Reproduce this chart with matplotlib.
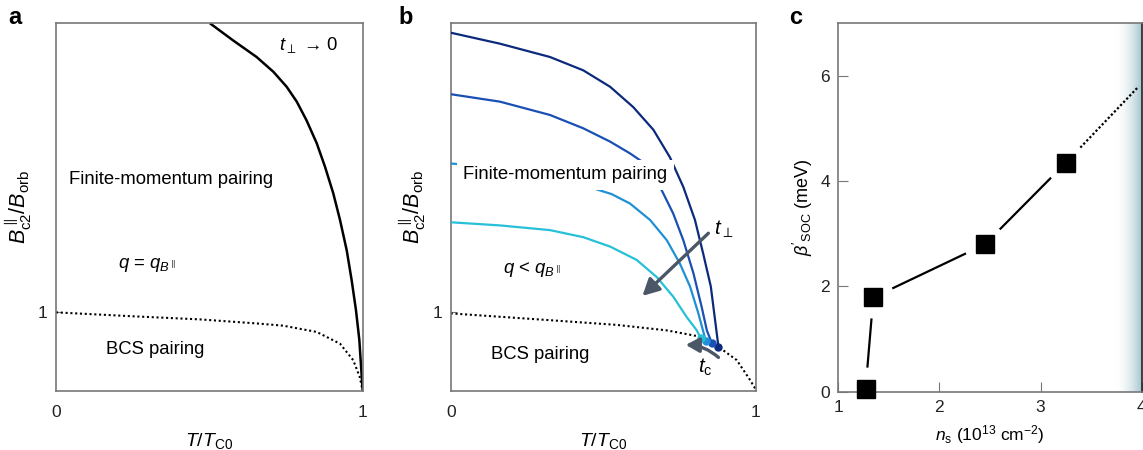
import numpy as np
import matplotlib
matplotlib.use("Agg")
import matplotlib.pyplot as plt
from matplotlib.patches import FancyArrowPatch
from matplotlib.colors import LinearSegmentedColormap

plt.rcParams['font.family'] = ['Liberation Sans', 'DejaVu Sans']
plt.rcParams['mathtext.fontset'] = 'custom'
plt.rcParams['mathtext.rm'] = 'Liberation Sans'
plt.rcParams['mathtext.it'] = 'Liberation Sans:italic'
plt.rcParams['mathtext.bf'] = 'Liberation Sans:bold'

# ---------------- data ----------------
# panel a
a_fm_x = [0.502, 0.578, 0.654, 0.709, 0.752, 0.785, 0.817, 0.850, 0.877, 0.904, 0.926,
          0.948, 0.964, 0.978, 0.989, 0.999, 1.0]
a_fm_y = [4.69, 4.47, 4.26, 4.07, 3.88, 3.69, 3.45, 3.16, 2.86, 2.52, 2.18,
          1.79, 1.41, 1.03, 0.65, 0.05, 0.0]
a_bcs_x = [0.0, 0.25, 0.47, 0.65, 0.741, 0.85, 0.926, 0.969, 0.99, 1.0]
a_bcs_y = [1.0, 0.95, 0.91, 0.86, 0.83, 0.75, 0.60, 0.39, 0.18, 0.0]

# panel b
b_bcs_x = [0.0, 0.325, 0.544, 0.708, 0.817, 0.877, 0.937, 0.98, 0.997]
b_bcs_y = [0.987, 0.90, 0.84, 0.77, 0.69, 0.56, 0.39, 0.14, 0.03]
b_c1_x = [0.0, 0.161, 0.325, 0.434, 0.522, 0.598, 0.664, 0.718, 0.762, 0.80, 0.827, 0.852, 0.866, 0.877]
b_c1_y = [4.57, 4.43, 4.26, 4.09, 3.88, 3.62, 3.33, 2.98, 2.60, 2.18, 1.75, 1.33, 0.90, 0.56]
b_c2_x = [0.0, 0.161, 0.325, 0.434, 0.522, 0.587, 0.636, 0.664, 0.691, 0.729, 0.762, 0.795, 0.822, 0.839, 0.855]
b_c2_y = [3.785, 3.69, 3.52, 3.35, 3.18, 3.03, 2.90, 2.73, 2.56, 2.26, 1.92, 1.50, 1.07, 0.77, 0.61]
b_c3_x = [0.0, 0.069, 0.218, 0.38, 0.527, 0.587, 0.653, 0.708, 0.751, 0.784, 0.811, 0.836]
b_c3_y = [2.90, 2.88, 2.83, 2.69, 2.51, 2.39, 2.18, 1.92, 1.62, 1.33, 0.99, 0.63]
b_c4_x = [0.0, 0.161, 0.325, 0.434, 0.522, 0.609, 0.675, 0.729, 0.773, 0.806, 0.819]
b_c4_y = [2.15, 2.11, 2.05, 1.96, 1.84, 1.67, 1.45, 1.20, 0.94, 0.77, 0.67]
b_colors = ['#0c2a7c', '#1a4fb3', '#1f90d6', '#26c0d8']

# panel c
c_ns = [1.27, 1.346, 2.45, 3.25]
c_beta = [0.06, 1.79, 2.80, 4.35]
c_ext_ns = 3.97
c_ext_beta = 5.80

W, H = 1143, 450
fig = plt.figure(figsize=(W / 100, H / 100), dpi=100)

FS = 13.3
TFS = 12.5
LFS = 15.5
frame_col = '#777777'


def style_frame(ax):
    for s in ax.spines.values():
        s.set_color(frame_col)
        s.set_linewidth(1.2)


# ---------------- panel a ----------------
axa = fig.add_axes([56 / W, 1 - 390.7 / H, (362.7 - 56) / W, (390.7 - 23.3) / H])
style_frame(axa)
axa.plot(a_fm_x, a_fm_y, color='black', lw=1.8, solid_capstyle='butt')
axa.plot(a_bcs_x, a_bcs_y, color='black', lw=1.5, ls=(0, (1, 1.3)))
axa.set_xlim(0, 1)
axa.set_ylim(0, 4.69)
axa.set_xticks([0, 1])
axa.set_yticks([1])
axa.tick_params(axis='x', length=0, pad=10, labelsize=TFS, colors='#222222')
axa.tick_params(axis='y', direction='in', length=4, pad=6, labelsize=TFS, colors='#222222', color=frame_col)
axa.set_xlabel(r'$T/T_{\rm C0}$', fontsize=14, labelpad=8)
axa.set_ylabel(r'$B^{\parallel}_{\rm c2}/B_{\rm orb}$', fontsize=LFS, labelpad=3)
axa.text(0.823, 4.41, r'$t_{\perp}$ → 0', fontsize=FS, ha='center', va='center')
axa.text(0.374, 2.69, 'Finite-momentum pairing', fontsize=FS, ha='center', va='center')
axa.text(0.296, 1.60, r'$q$ = $q_{B^{\parallel}}$', fontsize=FS, ha='center', va='center')
axa.text(0.325, 0.52, 'BCS pairing', fontsize=FS, ha='center', va='center')

# ---------------- panel b ----------------
axb = fig.add_axes([450.7 / W, 1 - 390.7 / H, (756 - 450.7) / W, (390.7 - 23.3) / H])
style_frame(axb)
axb.plot(b_bcs_x, b_bcs_y, color='black', lw=1.5, ls=(0, (1, 1.3)), zorder=2)
curves = [(b_c1_x, b_c1_y), (b_c2_x, b_c2_y), (b_c3_x, b_c3_y), (b_c4_x, b_c4_y)]
for (cx, cy), col in zip(curves, b_colors):
    axb.plot(cx, cy, color=col, lw=1.6, zorder=3)
    axb.plot(cx[-1], cy[-1], 'o', color=col, ms=5, zorder=4)
axb.set_xlim(0, 1)
axb.set_ylim(0, 4.69)
axb.set_xticks([0, 1])
axb.set_yticks([1])
axb.tick_params(axis='x', length=0, pad=10, labelsize=TFS, colors='#222222')
axb.tick_params(axis='y', direction='in', length=4, pad=6, labelsize=TFS, colors='#222222', color=frame_col)
axb.set_xlabel(r'$T/T_{\rm C0}$', fontsize=14, labelpad=8)
axb.set_ylabel(r'$B^{\parallel}_{\rm c2}/B_{\rm orb}$', fontsize=LFS, labelpad=3)
axb.text(0.376, 2.755, 'Finite-momentum pairing', fontsize=FS, ha='center', va='center', zorder=5,
         bbox=dict(boxstyle='square,pad=0.35', fc='white', ec='none'))
axb.text(0.265, 1.545, r'$q$ < $q_{B^{\parallel}}$', fontsize=FS, ha='center', va='center')
axb.text(0.293, 0.463, 'BCS pairing', fontsize=FS, ha='center', va='center')
axb.text(0.893, 2.06, r'$t_{\perp}$', fontsize=FS + 1.5, ha='center', va='center')
axb.text(0.833, 0.30, r'$t_{\rm c}$', fontsize=FS + 1.5, ha='center', va='center')
arr_col = '#4b5666'
axb.add_patch(FancyArrowPatch((0.844, 2.01), (0.628, 1.21), arrowstyle='-|>,head_length=5,head_width=2.6',
                              color=arr_col, lw=2.4, mutation_scale=2, zorder=6, shrinkA=0, shrinkB=0))
axb.add_patch(FancyArrowPatch((0.877, 0.425), (0.770, 0.585), arrowstyle='-|>,head_length=4,head_width=2.2',
                              connectionstyle='arc3,rad=0.18', color=arr_col, lw=2.4, mutation_scale=2,
                              zorder=6, shrinkA=0, shrinkB=0))

# ---------------- panel c ----------------
axc = fig.add_axes([838.3 / W, 1 - 391.7 / H, (1141.7 - 838.3) / W, (391.7 - 23.3) / H])
style_frame(axc)
axc.set_xlim(1, 4)
axc.set_ylim(0, 7)
cmap = LinearSegmentedColormap.from_list('shade', [(1, 1, 1, 0), (0.64, 0.77, 0.81, 1.0)])
grad = np.linspace(0, 1, 256).reshape(1, -1)
axc.imshow(grad, extent=[3.73, 4.0, 0, 7], aspect='auto', cmap=cmap, zorder=0)

# line segments with gaps around squares (gap in pixels)
fig.canvas.draw()
trans = axc.transData
inv = trans.inverted()
gap = 21.0
pts = np.column_stack([c_ns, c_beta])
for i in range(len(pts) - 1):
    p0 = trans.transform(pts[i])
    p1 = trans.transform(pts[i + 1])
    d = p1 - p0
    L = np.hypot(*d)
    u = d / L
    q0 = inv.transform(p0 + u * gap)
    q1 = inv.transform(p1 - u * gap)
    axc.plot([q0[0], q1[0]], [q0[1], q1[1]], color='black', lw=1.6, solid_capstyle='butt')
p0 = trans.transform(pts[-1])
p1 = trans.transform((c_ext_ns, c_ext_beta))
u = (p1 - p0) / np.hypot(*(p1 - p0))
q0 = inv.transform(p0 + u * gap)
axc.plot([q0[0], c_ext_ns], [q0[1], c_ext_beta], color='black', lw=1.6, ls=(0, (1, 1)))
axc.plot(c_ns, c_beta, 's', color='black', ms=13.5, clip_on=False, zorder=5)

axc.set_xticks([1, 2, 3, 4])
axc.set_yticks([0, 2, 4, 6])
axc.tick_params(direction='in', length=7, pad=6, labelsize=TFS, colors='#222222', color=frame_col)
axc.set_xlabel(r'$n_{\rm s}$ (10$^{13}$ cm$^{-2}$)', fontsize=12.5, labelpad=6)
axc.set_ylabel(r"$\beta'_{\rm SOC}$ (meV)", fontsize=13, labelpad=4)
axc.spines['right'].set_color('#222222')

# panel labels
for lab, xp in [('a', 8), ('b', 398), ('c', 789)]:
    fig.text(xp / W, 1 - 6 / H, lab, fontsize=17, fontweight='bold', ha='left', va='top')

fig.savefig('out.png', dpi=100)
